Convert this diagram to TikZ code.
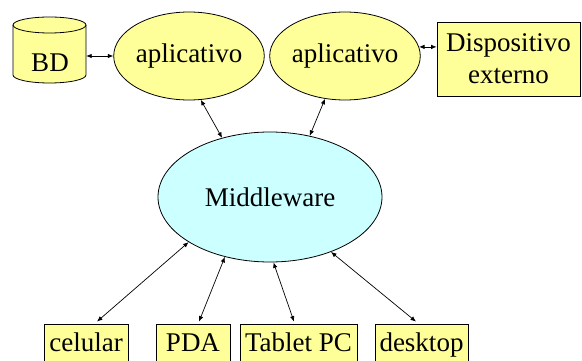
\documentclass[tikz,border=0pt]{standalone}
\usepackage{fontspec}
\setmainfont{Liberation Serif}
\usetikzlibrary{shapes.geometric,arrows.meta}
\definecolor{yel}{RGB}{255,255,153}
\definecolor{cy}{RGB}{204,255,255}
\begin{document}
\begin{tikzpicture}[x=1pt,y=-1pt,
  every node/.style={font=\fontsize{27}{32}\selectfont},
  ell/.style={ellipse,draw,line width=0.8pt,inner sep=0pt},
  box/.style={rectangle,draw,line width=0.8pt,fill=yel,inner sep=0pt,align=center},
  dev/.style={box,minimum height=42pt,text height=19pt,text depth=6pt},
  arr/.style={{Latex[length=5.5pt,width=4.5pt]}-{Latex[length=5.5pt,width=4.5pt]},line width=0.7pt}]
\clip (0,0) rectangle (582,361);
% database cylinder
\filldraw[fill=yel,line width=0.8pt] (13,25) -- (13,75) arc[start angle=180,end angle=0,x radius=36.5,y radius=8]
  -- (86,25) arc[start angle=0,end angle=-180,x radius=36.5,y radius=8] -- cycle;
\draw[line width=0.8pt] (86,25) arc[start angle=0,end angle=180,x radius=36.5,y radius=8];
\node[minimum width=73pt,minimum height=66pt,inner sep=0pt] (bd) at (49.5,50) {};
\node (bdt) at (50,63) {BD};
% applications
\node[ell,fill=yel,minimum width=145pt,minimum height=88pt] (app1) at (189,56) {aplicativo};
\node[ell,fill=yel,minimum width=145pt,minimum height=88pt] (app2) at (345,56) {aplicativo};
\node[box,minimum width=143pt,minimum height=74pt] (disp) at (508.5,59) {Dispositivo\\externo};
% middleware
\node[ell,fill=cy,minimum width=224pt,minimum height=130pt] (mw) at (270,197) {Middleware};
% devices
\node[dev,minimum width=84pt] (cel) at (86,345) {celular};
\node[dev,minimum width=74pt] (pda) at (193,345) {PDA};
\node[dev,minimum width=117pt] (tab) at (298.5,345) {Tablet PC};
\node[dev,minimum width=93pt] (desk) at (421.5,345) {desktop};
% connectors
\draw[arr] (app1.west -| bd.east) -- (app1.west);
\draw[arr] (app2.7) -- (app2.7 -| disp.west);
\draw[arr] (app1.-75) -- (mw.129);
\draw[arr] (app2.-115) -- (mw.57);
\draw[arr] ([xshift=11pt,yshift=2pt]cel.north) -- (mw.209);
\draw[arr] ([xshift=6pt,yshift=2pt]pda.north) -- (mw.-127);
\draw[arr] ([xshift=-4.5pt,yshift=2pt]tab.north) -- (mw.-87);
\draw[arr] ([xshift=-5.5pt,yshift=2pt]desk.north) -- (mw.-42);
\end{tikzpicture}
\end{document}
